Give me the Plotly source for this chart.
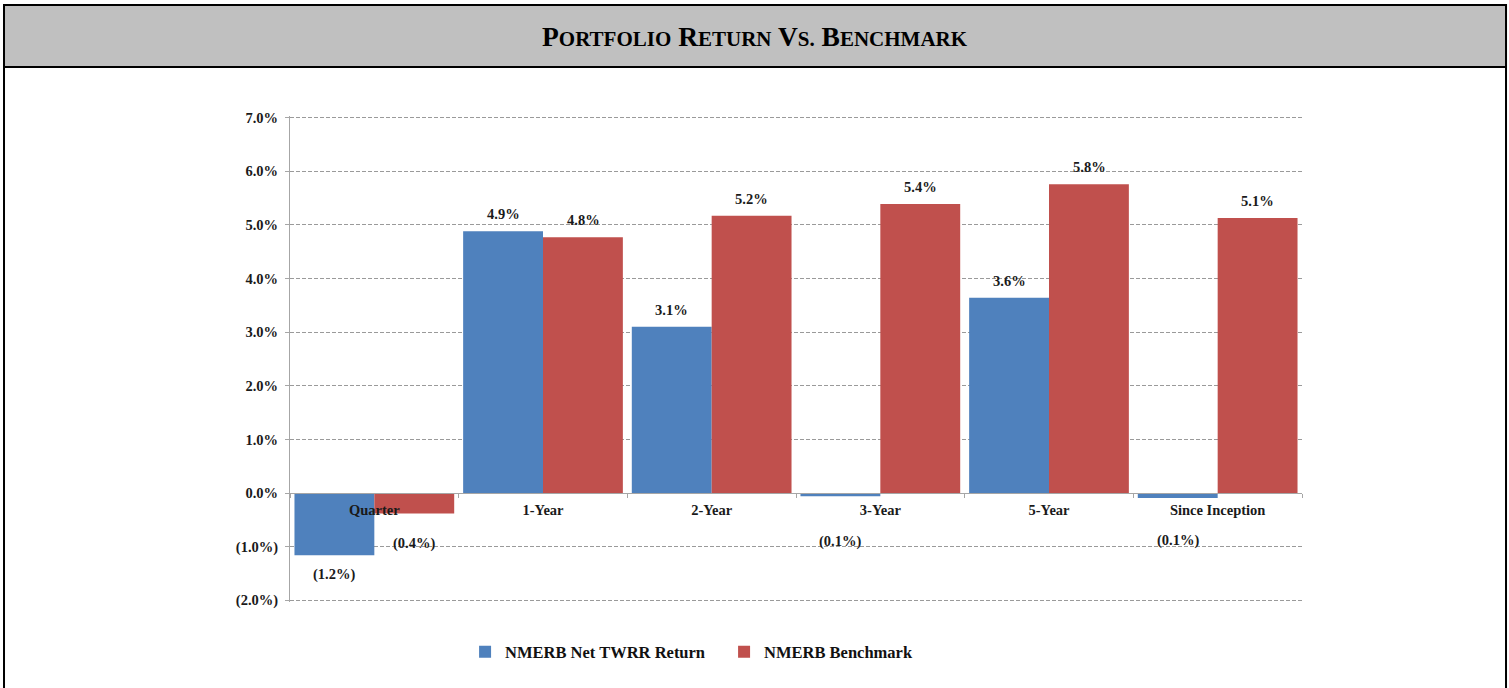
import plotly.graph_objects as go

categories = ["Quarter", "1-Year", "2-Year", "3-Year", "5-Year", "Since Inception"]
net_twrr = [-1.16, 4.88, 3.10, -0.06, 3.64, -0.09]
benchmark = [-0.38, 4.77, 5.17, 5.39, 5.76, 5.13]
y_ticks = [-2, -1, 0, 1, 2, 3, 4, 5, 6, 7]
series_names = ["NMERB Net TWRR Return", "NMERB Benchmark"]

# style: vertical label offsets (px) per bar
net_label_shift = [-19, 17, 17, -45, 17, -43]
bench_label_shift = [-30, 17, 17, 17, 17, 17]

BLUE = "#4F81BD"
RED = "#C0504D"
FONT = "Liberation Serif"
TXT = "#1a1a1a"
PAD = 0.03  # tiny range padding so edge gridlines are kept


def fmt(v):
    return "(%.1f%%)" % abs(v) if v < 0 else "%.1f%%" % v


tick_text = [fmt(float(t)) for t in y_ticks]

fig = go.Figure()
fig.add_bar(x=categories, y=net_twrr, name=series_names[0], marker_color=BLUE,
            marker_line_width=0)
fig.add_bar(x=categories, y=benchmark, name=series_names[1], marker_color=RED,
            marker_line_width=0)

annotations = []
for vals, shifts, xs in ((net_twrr, net_label_shift, -40), (benchmark, bench_label_shift, 40)):
    for c, v, s in zip(categories, vals, shifts):
        annotations.append(dict(x=c, y=v, xref="x", yref="y", text=fmt(v), showarrow=False,
                                xshift=xs, yshift=s, yanchor="middle",
                                font=dict(family=FONT, size=14.5, color=TXT, weight="bold")))

# Title (small caps imitation)
def sc(word):
    return word[0] + "<span style='font-size:21px'>" + word[1:] + "</span>"

title_txt = " ".join(sc(w) for w in ["PORTFOLIO", "RETURN", "VS.", "BENCHMARK"])
annotations.append(dict(x=0.4595, y=1.1626, xref="paper", yref="paper", text=title_txt,
                        showarrow=False, xanchor="center", yanchor="middle",
                        font=dict(family=FONT, size=27.5, color="#000000", weight="bold")))

shapes = [
    dict(type="rect", xref="paper", yref="paper", x0=-0.2826, x1=1.2016, y0=-0.25, y1=1.2284,
         line=dict(color="#000000", width=2), fillcolor="rgba(0,0,0,0)", layer="below"),
    dict(type="rect", xref="paper", yref="paper", x0=-0.2826, x1=1.2016, y0=1.1008, y1=1.2284,
         line=dict(color="#000000", width=2), fillcolor="#C0C0C0", layer="below"),
]

fig.update_layout(
    width=1509, height=688,
    margin=dict(l=290, r=207, t=116, b=86),
    paper_bgcolor="white", plot_bgcolor="white",
    barmode="group", bargap=0.053, bargroupgap=0,
    showlegend=True,
    legend=dict(orientation="h", x=0.173, xanchor="left", y=-0.103, yanchor="middle",
                entrywidth=214, entrywidthmode="pixels",
                font=dict(family=FONT, size=16.5, color="#111111", weight="bold"),
                bgcolor="rgba(0,0,0,0)"),
    annotations=annotations,
    shapes=shapes,
    font=dict(family=FONT),
)

fig.update_yaxes(range=[-2 - PAD, 7 + PAD], tickvals=y_ticks, ticktext=tick_text,
                 showgrid=True, gridcolor="#9A9A9A", griddash="4px,2px", gridwidth=1,
                 zeroline=False, showline=True, linecolor="#A6A6A6", linewidth=1,
                 ticks="outside", ticklen=4, tickcolor="#A6A6A6", ticklabelstandoff=4,
                 tickfont=dict(family=FONT, size=14.5, color=TXT, weight="bold"),
                 fixedrange=True)
fig.update_xaxes(type="category", anchor="free", position=(2 + PAD) / (9 + 2 * PAD),
                 showline=True, linecolor="#A6A6A6", linewidth=1,
                 ticks="outside", tickson="boundaries", ticklen=4, tickcolor="#A6A6A6",
                 showgrid=False, ticklabelstandoff=3,
                 tickfont=dict(family=FONT, size=14.5, color=TXT, weight="bold"),
                 fixedrange=True)

fig.write_html("out.html", config={"displayModeBar": False},
               post_script="document.body.style.margin='0';document.body.style.overflow='hidden';")
